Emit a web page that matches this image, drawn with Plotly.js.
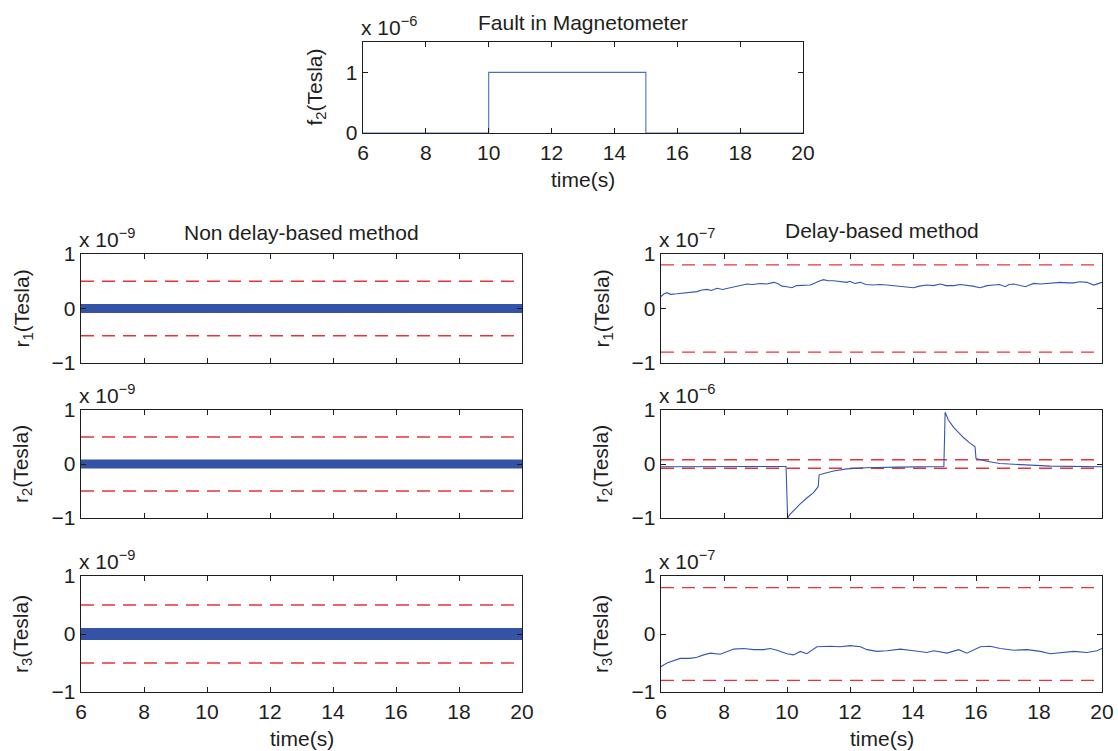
<!DOCTYPE html>
<html>
<head>
<meta charset="utf-8">
<script src="https://cdn.plot.ly/plotly-3.0.1.min.js"></script>
<style>html,body{margin:0;padding:0;background:#fff;}#chart{width:1118px;height:751px;}</style>
</head>
<body>
<div id="chart"></div>
<script>
// ---------------- DATA ----------------
const xTickVals = [6, 8, 10, 12, 14, 16, 18, 20];
const yTickVals = [-1, 0, 1];
const topTickVals = [0, 1];

// Fault in magnetometer f2 (units of 1e-6 T)
const faultTime = [6, 10, 10, 15, 15, 20];
const faultValue = [0, 0, 1, 1, 0, 0];

// Non delay-based residuals (units of 1e-9 T) – essentially zero
const nonDelayTime = [6, 20];
const nonDelayR1 = [0, 0];
const nonDelayR2 = [0, 0];
const nonDelayR3 = [0, 0];
const nonDelayThreshold = 0.5;   // ±0.5e-9

// Delay-based r1 (units of 1e-7 T)
const r1Time = [6.00,6.10,6.19,6.30,6.51,6.65,6.83,7.00,7.14,7.30,7.46,7.60,7.78,7.95,8.10,8.25,8.41,8.55,8.73,8.90,9.15,9.35,9.58,9.70,9.84,10.00,10.16,10.30,10.42,10.60,10.74,10.85,10.95,11.05,11.16,11.30,11.48,11.70,11.90,12.00,12.15,12.33,12.50,12.75,12.95,13.17,13.40,13.60,13.80,14.02,14.20,14.44,14.65,14.87,15.05,15.29,15.50,15.71,15.90,16.13,16.35,16.56,16.75,16.93,17.05,17.20,17.40,17.57,17.70,17.83,18.05,18.25,18.45,18.68,18.90,19.10,19.30,19.52,19.74,19.90,20.00];
const r1Value = [0.22,0.27,0.29,0.26,0.27,0.28,0.30,0.31,0.31,0.34,0.35,0.33,0.37,0.35,0.37,0.40,0.41,0.43,0.45,0.44,0.46,0.45,0.48,0.46,0.41,0.40,0.38,0.42,0.42,0.43,0.43,0.46,0.49,0.51,0.53,0.51,0.51,0.49,0.48,0.50,0.46,0.48,0.44,0.43,0.44,0.43,0.42,0.41,0.40,0.38,0.41,0.43,0.42,0.45,0.42,0.42,0.44,0.43,0.41,0.38,0.42,0.43,0.44,0.40,0.44,0.45,0.42,0.40,0.43,0.46,0.45,0.46,0.47,0.48,0.47,0.47,0.49,0.48,0.43,0.46,0.48];
const r1Threshold = 0.8;  // ±0.8e-7

// Delay-based r2 (units of 1e-6 T)
const r2Time = [6.00,7.00,8.00,9.00,9.97,10.02,10.10,10.21,10.42,10.63,10.84,10.99,11.02,11.20,11.48,11.90,12.50,13.50,14.50,14.98,15.02,15.12,15.29,15.60,15.80,15.97,16.00,16.34,16.76,17.40,18.35,20.00];
const r2Value = [-0.05,-0.045,-0.04,-0.045,-0.045,-1.00,-0.93,-0.86,-0.74,-0.63,-0.53,-0.42,-0.20,-0.17,-0.13,-0.09,-0.07,-0.057,-0.05,-0.045,0.96,0.82,0.68,0.49,0.39,0.32,0.10,0.05,0.01,-0.01,-0.04,-0.05];
const r2Threshold = 0.08; // ±0.08e-6

// Delay-based r3 (units of 1e-7 T)
const r3Time = [6.00,6.03,6.19,6.40,6.61,6.93,7.14,7.35,7.57,7.88,8.10,8.31,8.62,8.94,9.26,9.47,9.68,10.00,10.21,10.42,10.63,10.95,11.38,11.69,12.01,12.33,12.54,12.86,13.17,13.60,14.02,14.44,14.66,15.08,15.45,15.71,16.14,16.45,16.77,17.20,17.62,18.04,18.36,18.68,19.10,19.52,19.84,20.00];
const r3Value = [-0.57,-0.55,-0.50,-0.46,-0.42,-0.42,-0.40,-0.36,-0.33,-0.35,-0.30,-0.26,-0.25,-0.27,-0.27,-0.25,-0.28,-0.34,-0.36,-0.30,-0.34,-0.22,-0.21,-0.22,-0.20,-0.22,-0.27,-0.30,-0.29,-0.26,-0.29,-0.32,-0.29,-0.33,-0.27,-0.33,-0.22,-0.21,-0.25,-0.28,-0.27,-0.30,-0.34,-0.32,-0.30,-0.32,-0.29,-0.25];
const r3Threshold = 0.8;  // ±0.8e-7

// ---------------- LAYOUT HELPERS ----------------
const W = 1118, H = 751;
const BLUE = '#3553a6', BLUE_THIN = '#3356b0', RED = '#e8323a', AX = '#1e1e1e';
const FONT = 'Liberation Sans, Arial, Helvetica, sans-serif';
const FS = 21;
function xd(a, b) { return [a / W, b / W]; }
function yd(top, bottom) { return [1 - bottom / H, 1 - top / H]; }

const colTop = xd(363, 803), colL = xd(81, 522), colR = xd(661, 1102);
const rowTop = yd(42, 133), row1 = yd(254, 363), row2 = yd(410, 518), row3 = yd(576, 692);

function xax(domain, anchor, labels) {
  return {domain: domain, anchor: anchor, range: [6, 20], tickmode: 'array', tickvals: xTickVals,
    showticklabels: labels, showline: true, mirror: 'allticks', linecolor: AX, linewidth: 1.3,
    ticks: 'inside', ticklen: 5, tickcolor: AX, showgrid: false, zeroline: false,
    tickfont: {size: FS, color: AX, family: FONT}, fixedrange: true};
}
function yax(domain, anchor, range, vals) {
  return {domain: domain, anchor: anchor, range: range, tickmode: 'array', tickvals: vals,
    showline: true, mirror: 'allticks', linecolor: AX, linewidth: 1.3,
    ticks: 'inside', ticklen: 5, tickcolor: AX, showgrid: false, zeroline: false,
    tickfont: {size: FS, color: AX, family: FONT}, fixedrange: true};
}

const traces = [];
function line(x, y, xa, ya, color, width, dash) {
  traces.push({x: x, y: y, xaxis: xa, yaxis: ya, type: 'scatter', mode: 'lines',
    line: {color: color, width: width, dash: dash || 'solid'}, hoverinfo: 'skip', showlegend: false});
}
function thresholds(thr, xa, ya) {
  line([6, 20], [thr, thr], xa, ya, RED, 1.4, '13px,8px');
  line([6, 20], [-thr, -thr], xa, ya, RED, 1.4, '13px,8px');
}

// top
line(faultTime, faultValue, 'x', 'y', '#4a6cc4', 1.1);
// left column
thresholds(nonDelayThreshold, 'x2', 'y2');
line(nonDelayTime, nonDelayR1, 'x2', 'y2', BLUE, 9);
thresholds(nonDelayThreshold, 'x3', 'y3');
line(nonDelayTime, nonDelayR2, 'x3', 'y3', BLUE, 9);
thresholds(nonDelayThreshold, 'x4', 'y4');
line(nonDelayTime, nonDelayR3, 'x4', 'y4', BLUE, 12);
// right column
thresholds(r1Threshold, 'x5', 'y5');
line(r1Time, r1Value, 'x5', 'y5', BLUE_THIN, 1.1);
thresholds(r2Threshold, 'x6', 'y6');
line(r2Time, r2Value, 'x6', 'y6', BLUE_THIN, 1.1);
thresholds(r3Threshold, 'x7', 'y7');
line(r3Time, r3Value, 'x7', 'y7', BLUE_THIN, 1.1);

const ann = [];
function text(t, xref, yref, x, y, xanchor, yanchor, xshift, yshift, angle) {
  ann.push({text: t, xref: xref, yref: yref, x: x, y: y, xanchor: xanchor, yanchor: yanchor,
    xshift: xshift || 0, yshift: yshift || 0, textangle: angle || 0, showarrow: false,
    font: {size: FS, color: AX, family: FONT}});
}
// titles
text('Fault in Magnetometer', 'x domain', 'y domain', 0.5, 1, 'center', 'bottom', 0, 6);
text('Non delay-based method', 'x2 domain', 'y2 domain', 0.5, 1, 'center', 'bottom', 0, 8);
text('Delay-based method', 'x5 domain', 'y5 domain', 0.5, 1, 'center', 'bottom', 0, 10);
// exponent labels
const exps = [['x','y','−6'],['x2','y2','−9'],['x3','y3','−9'],['x4','y4','−9'],['x5','y5','−7'],['x6','y6','−6'],['x7','y7','−7']];
exps.forEach(e => text('x 10<sup>' + e[2] + '</sup>', e[0] + ' domain', e[1] + ' domain', 0, 1, 'left', 'bottom', -4, 1));
// y titles
const ylabs = [['x','y','f<sub>2</sub>(Tesla)',-48],['x2','y2','r<sub>1</sub>(Tesla)',-59],['x3','y3','r<sub>2</sub>(Tesla)',-59],['x4','y4','r<sub>3</sub>(Tesla)',-59],
               ['x5','y5','r<sub>1</sub>(Tesla)',-59],['x6','y6','r<sub>2</sub>(Tesla)',-59],['x7','y7','r<sub>3</sub>(Tesla)',-59]];
ylabs.forEach(l => text(l[2], l[0] + ' domain', l[1] + ' domain', 0, 0.5, 'center', 'middle', l[3], 0, -90));
// x titles
[['x','y'],['x4','y4'],['x7','y7']].forEach(p => text('time(s)', p[0] + ' domain', p[1] + ' domain', 0.5, 0, 'center', 'middle', 0, -46));

const layout = {
  width: W, height: H, margin: {l: 0, r: 0, t: 0, b: 0},
  paper_bgcolor: '#ffffff', plot_bgcolor: '#ffffff', showlegend: false,
  font: {family: FONT, size: FS, color: AX},
  xaxis: xax(colTop, 'y', true), yaxis: yax(rowTop, 'x', [0, 1.5], topTickVals),
  xaxis2: xax(colL, 'y2', false), yaxis2: yax(row1, 'x2', [-1, 1], yTickVals),
  xaxis3: xax(colL, 'y3', false), yaxis3: yax(row2, 'x3', [-1, 1], yTickVals),
  xaxis4: xax(colL, 'y4', true), yaxis4: yax(row3, 'x4', [-1, 1], yTickVals),
  xaxis5: xax(colR, 'y5', false), yaxis5: yax(row1, 'x5', [-1, 1], yTickVals),
  xaxis6: xax(colR, 'y6', false), yaxis6: yax(row2, 'x6', [-1, 1], yTickVals),
  xaxis7: xax(colR, 'y7', true), yaxis7: yax(row3, 'x7', [-1, 1], yTickVals),
  annotations: ann
};
Plotly.newPlot('chart', traces, layout, {staticPlot: true, displayModeBar: false});
</script>
</body>
</html>
